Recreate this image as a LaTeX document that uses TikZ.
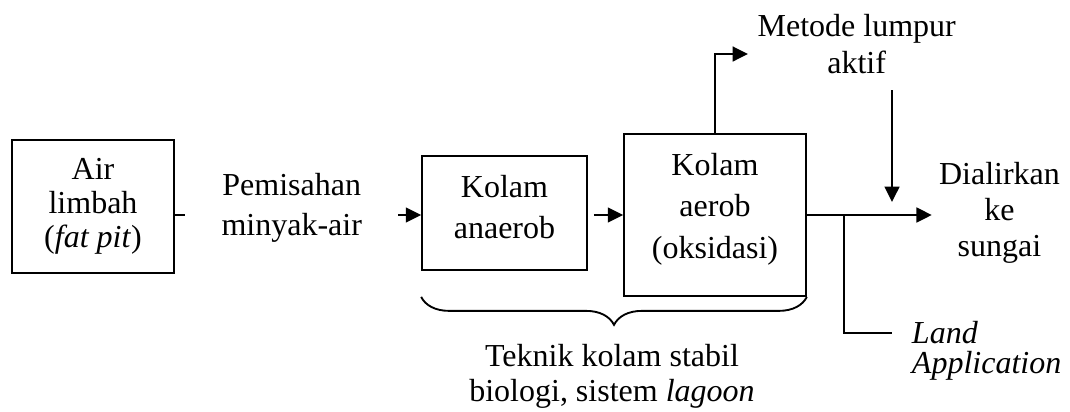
\documentclass[tikz,border=0pt]{standalone}
\usepackage{fontspec}
\setmainfont{Liberation Serif}
\usetikzlibrary{arrows.meta,decorations.pathreplacing}
\begin{document}
\begin{tikzpicture}[x=0.75pt,y=0.75pt,yscale=-1,xscale=1,
  boxnode/.style={draw, line width=1.3pt, align=center, inner sep=0pt},
  txtnode/.style={align=center, inner sep=0pt},
  flow/.style={line width=1.8pt},
  arr/.style={flow, -{Triangle[length=11.5pt,width=11pt]}}]
\useasboundingbox (0,0) rectangle (1070,411);

%Shape: Rectangle
\node [boxnode, minimum width=121.5pt, minimum height=99.75pt, font=\fontsize{24}{25.5}\selectfont] (air) at (93,206.5) {Air\\limbah\\(\textit{fat pit})};
%Shape: Rectangle
\node [boxnode, minimum width=123.75pt, minimum height=85.5pt, font=\fontsize{24}{31}\selectfont] (anaerob) at (504.5,213) {Kolam\\anaerob\rule[-9pt]{0pt}{0pt}};
%Shape: Rectangle
\node [boxnode, minimum width=136.5pt, minimum height=121.5pt, font=\fontsize{24}{31}\selectfont] (aerob) at (715,215) {Kolam\\aerob\\(oksidasi)\rule[-14pt]{0pt}{0pt}};

% Text Node
\node [txtnode, inner xsep=27pt, font=\fontsize{24}{30}\selectfont] (pemisahan) at (291.7,207.5) {Pemisahan\\minyak-air};
% Text Node
\node [txtnode, inner sep=12pt, font=\fontsize{24}{27.75}\selectfont] (metode) at (856.7,44.4) {Metode lumpur\\aktif};
% Text Node
\node [txtnode, inner sep=5.25pt, font=\fontsize{24}{27}\selectfont] (sungai) at (999.5,213.3) {Dialirkan\\ke\\sungai};
% Text Node
\node [txtnode, align=left, anchor=west, font={\fontsize{24}{22.5}\selectfont\itshape}] (land) at (911.7,350.4) {Land\\Application};
% Text Node
\node [txtnode, font=\fontsize{24}{26.25}\selectfont] (teknik) at (612,376.7) {Teknik kolam stabil\\biologi, sistem \textit{lagoon}};

\coordinate (lvl) at (0,215);
\coordinate (mtip) at (748,54);
\coordinate (ltip) at (892,202);
\coordinate (br) at (844,215);
\coordinate (lend) at (892,333);

% connectors
\draw [flow] (air.east |- lvl) -- (pemisahan.west |- lvl);
\draw [arr] (pemisahan.east |- lvl) -- (anaerob.west |- lvl);
\draw [arr, shorten <=4.5pt] (anaerob.east |- lvl) -- (aerob.west |- lvl);
\draw [arr] (aerob.north) |- (mtip);
\draw [arr] (metode.south -| ltip) -- (ltip);
\draw [arr] (aerob.east) -- (aerob.east -| sungai.west);
\draw [flow] (br) |- (lend);

% brace
\draw [line width=1.4pt, decorate, decoration={brace, mirror, amplitude=21pt}] (anaerob.west |- aerob.south) -- (aerob.south east);
\end{tikzpicture}
\end{document}
